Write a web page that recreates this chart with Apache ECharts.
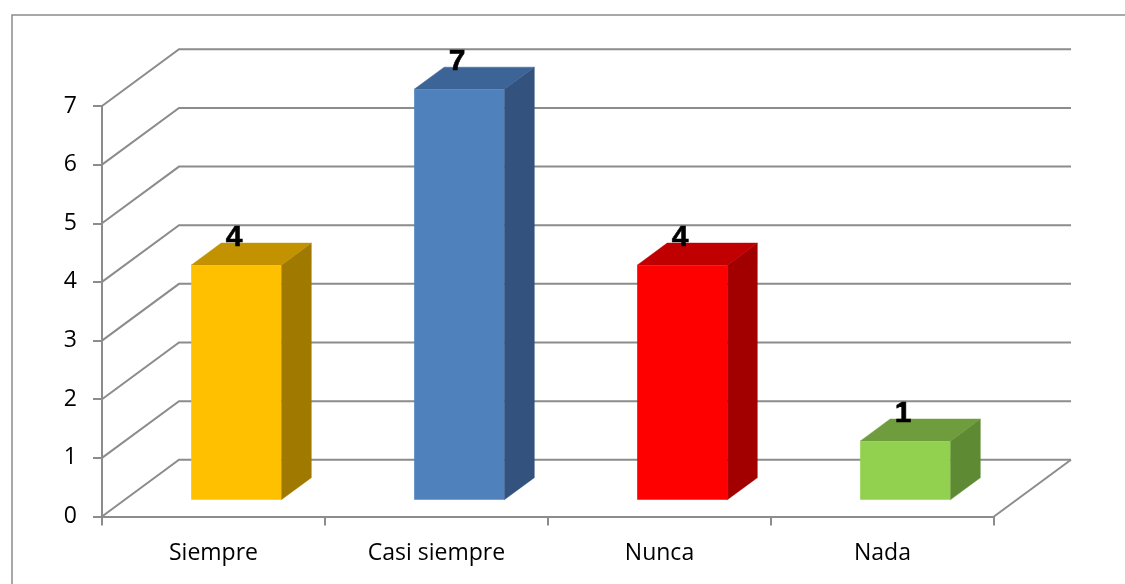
<!DOCTYPE html>
<html>
<head>
<meta charset="utf-8">
<script src="https://cdn.jsdelivr.net/npm/echarts@6/dist/echarts.min.js"></script>
<style>
  html, body { margin: 0; padding: 0; background: #ffffff; }
  #chart { width: 1125px; height: 584px; }
</style>
</head>
<body>
<div id="chart"></div>
<script>
// Answer counts per category
const categories = ['Siempre', 'Casi siempre', 'Nunca', 'Nada'];
const values = [4, 7, 4, 1];
const yTicks = [0, 1, 2, 3, 4, 5, 6, 7];

// Face shades for each bar: front, top, side
const frontColors = ['#FFC000', '#4F81BD', '#FF0000', '#92D050'];
const topColors = ['#C39200', '#3C6496', '#C00000', '#6F9D3D'];
const sideColors = ['#A07A00', '#33537E', '#A20000', '#5E8A33'];

// Oblique depth of the 3D box (pixels) and where the bars sit inside it
const DEPTH_DX = 77;
const DEPTH_DY = -56.7;
const BAR_FRONT = 0.295;
const BAR_BACK = 0.685;
const BAR_RATIO = 0.404;
const GRID_COLOR = '#8c8c8c';

const chart = echarts.init(document.getElementById('chart'), null, { renderer: 'canvas' });

function renderGrid(params, api) {
  const v = api.value(1);
  const cs = params.coordSys;
  const y = api.coord([0, v])[1];
  const children = [{
    type: 'polyline',
    shape: { points: [[cs.x, y], [cs.x + DEPTH_DX, y + DEPTH_DY], [cs.x + cs.width + DEPTH_DX, y + DEPTH_DY]] },
    style: { stroke: GRID_COLOR, lineWidth: 2, fill: null }
  }];
  if (v === 0) {
    children.push({
      type: 'line',
      shape: { x1: cs.x + cs.width, y1: y, x2: cs.x + cs.width + DEPTH_DX, y2: y + DEPTH_DY },
      style: { stroke: GRID_COLOR, lineWidth: 2 }
    });
  }
  return { type: 'group', children: children };
}

function renderBar(params, api) {
  const i = api.value(0);
  const v = api.value(1);
  const base = api.coord([i, 0]);
  const top = api.coord([i, v]);
  const bw = api.size([1, 0])[0];
  const w = bw * BAR_RATIO;
  const ox0 = DEPTH_DX * BAR_FRONT, oy0 = DEPTH_DY * BAR_FRONT;
  const ddx = DEPTH_DX * (BAR_BACK - BAR_FRONT), ddy = DEPTH_DY * (BAR_BACK - BAR_FRONT);
  const xl = base[0] - w / 2 + ox0;
  const xr = xl + w;
  const yb = base[1] + oy0;
  const yt = top[1] + oy0;
  return {
    type: 'group',
    children: [
      {
        type: 'polygon',
        shape: { points: [[xr, yt], [xr + ddx, yt + ddy], [xr + ddx, yb + ddy], [xr, yb]] },
        style: { fill: sideColors[i], stroke: sideColors[i], lineWidth: 0.5 }
      },
      {
        type: 'polygon',
        shape: { points: [[xl, yt], [xr, yt], [xr + ddx, yt + ddy], [xl + ddx, yt + ddy]] },
        style: { fill: topColors[i], stroke: topColors[i], lineWidth: 0.5 }
      },
      {
        type: 'rect',
        shape: { x: xl, y: yt, width: w, height: yb - yt },
        style: { fill: frontColors[i] }
      },
      {
        type: 'text',
        z2: 10,
        style: {
          x: xl + w / 2 - 2,
          y: yt + ddy - 5,
          text: String(values[i]),
          fill: '#000000',
          stroke: '#000000',
          lineWidth: 0.6,
          font: 'bold 30px "Liberation Sans", Arial, sans-serif',
          textAlign: 'center',
          textVerticalAlign: 'middle'
        }
      }
    ]
  };
}

chart.setOption({
  animation: false,
  backgroundColor: '#ffffff',
  graphic: [{
    type: 'rect',
    left: 9.5,
    top: 12.5,
    shape: { x: 0, y: 0, width: 1300, height: 800 },
    style: { fill: null, stroke: '#8c8c8c', lineWidth: 1.5 },
    silent: true
  }],
  grid: { left: 102, right: 131, top: 106, bottom: 67.5, containLabel: false },
  xAxis: {
    type: 'category',
    data: categories,
    boundaryGap: true,
    axisLine: { show: true, lineStyle: { color: GRID_COLOR, width: 2 } },
    axisTick: { show: true, length: 9, lineStyle: { color: GRID_COLOR, width: 2 } },
    axisLabel: { color: '#000000', fontSize: 23, fontFamily: '"Open Sans", sans-serif', margin: 25 },
    splitLine: { show: false }
  },
  yAxis: {
    type: 'value',
    min: 0,
    max: 7,
    interval: 1,
    axisLine: { show: true, lineStyle: { color: GRID_COLOR, width: 2 } },
    axisTick: { show: true, length: 9, lineStyle: { color: GRID_COLOR, width: 2 } },
    axisLabel: { color: '#000000', fontSize: 23, fontFamily: '"Open Sans", sans-serif', margin: 25 },
    splitLine: { show: false }
  },
  series: [
    {
      type: 'custom',
      name: 'grid',
      z: 1,
      silent: true,
      renderItem: renderGrid,
      encode: { x: 0, y: 1 },
      data: yTicks.map(function (v) { return [0, v]; })
    },
    {
      type: 'custom',
      name: 'bars',
      z: 2,
      renderItem: renderBar,
      encode: { x: 0, y: 1 },
      data: values.map(function (v, i) { return [i, v]; })
    }
  ]
});
</script>
</body>
</html>
